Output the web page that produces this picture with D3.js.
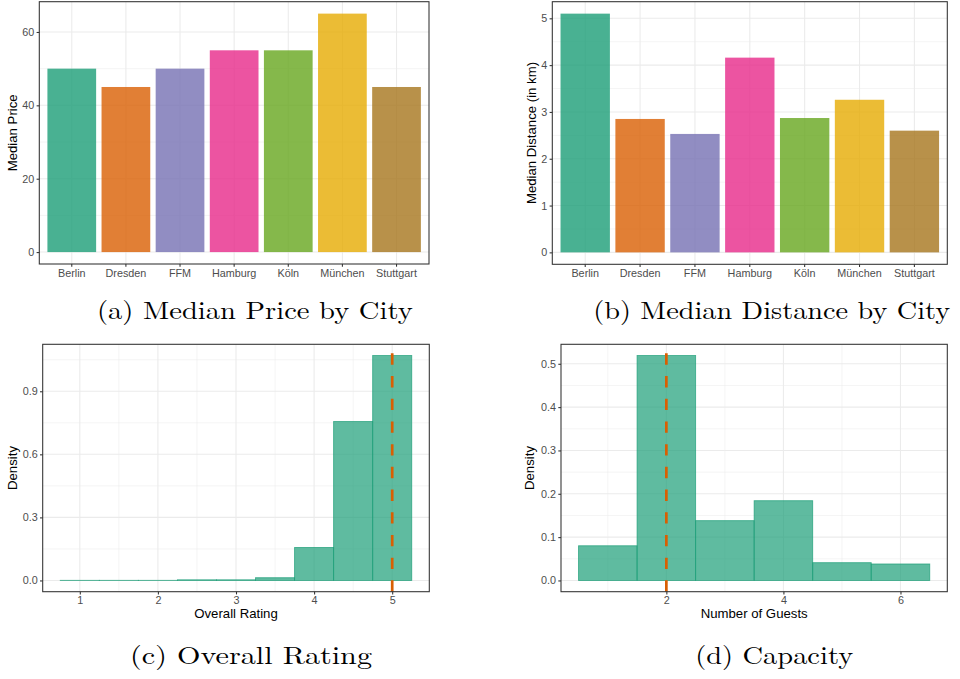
<!DOCTYPE html>
<html>
<head>
<meta charset="utf-8">
<script src="https://cdn.jsdelivr.net/npm/d3@7"></script>
<style>
  html, body { margin: 0; padding: 0; background: #fff; }
  svg { display: block; }
</style>
</head>
<body>
<svg id="chart" width="960" height="679"></svg>
<script>
// ---------------- DATA ----------------
const cities = ["Berlin", "Dresden", "FFM", "Hamburg", "Köln", "München", "Stuttgart"];
const medianPrice = [50, 45, 50, 55, 55, 65, 45];
const medianDistance = [5.10, 2.85, 2.53, 4.16, 2.87, 3.26, 2.60];
const cityColors = ["#1B9E77", "#D95F02", "#7570B3", "#E7298A", "#66A61E", "#E6AB02", "#A6761D"];

const ratingBinCenters = [1, 1.5, 2, 2.5, 3, 3.5, 4, 4.5, 5];
const ratingDensity = [0.0005, 0.0005, 0.0005, 0.003, 0.003, 0.013, 0.157, 0.756, 1.07];
const ratingBinWidth = 0.5;
const ratingMedian = 5;
const ratingTicks = [1, 2, 3, 4, 5];
const ratingDensityTicks = [0, 0.3, 0.6, 0.9];

const guestBinCenters = [1, 2, 3, 4, 5, 6];
const guestDensity = [0.080, 0.519, 0.138, 0.184, 0.041, 0.038];
const guestBinWidth = 1;
const guestMedian = 2;
const guestTicks = [2, 4, 6];
const guestDensityTicks = [0, 0.1, 0.2, 0.3, 0.4, 0.5];

const priceTicks = [0, 20, 40, 60];
const distanceTicks = [0, 1, 2, 3, 4, 5];

const captions = ["(a) Median Price by City", "(b) Median Distance by City", "(c) Overall Rating", "(d) Capacity"];

// ---------------- STYLE ----------------
const FONT = "'Liberation Sans', Arial, Helvetica, sans-serif";
const SERIF = "'Latin Modern Roman', 'CMU Serif', 'Liberation Serif', 'Times New Roman', serif";
const GRID = "#EBEBEB";
const DARK = "#333333";
const TICKTXT = "#4D4D4D";
const TICK_FS = 10.8;
const TITLE_FS = 13.2;

const svg = d3.select("#chart");

function panelFrame(g, p) {
  g.append("rect").attr("x", p.left).attr("y", p.top)
    .attr("width", p.right - p.left).attr("height", p.bottom - p.top)
    .attr("fill", "#fff");
}

function hGrid(g, p, y, major, minor) {
  g.selectAll(null).data(minor).join("line")
    .attr("x1", p.left).attr("x2", p.right)
    .attr("y1", d => y(d)).attr("y2", d => y(d))
    .attr("stroke", GRID).attr("stroke-width", 0.55);
  g.selectAll(null).data(major).join("line")
    .attr("x1", p.left).attr("x2", p.right)
    .attr("y1", d => y(d)).attr("y2", d => y(d))
    .attr("stroke", GRID).attr("stroke-width", 1.07);
}
function vGrid(g, p, xs, width) {
  g.selectAll(null).data(xs).join("line")
    .attr("y1", p.top).attr("y2", p.bottom)
    .attr("x1", d => d).attr("x2", d => d)
    .attr("stroke", GRID).attr("stroke-width", width);
}

function styleAxis(ax) {
  ax.select(".domain").remove();
  ax.selectAll(".tick line").attr("stroke", DARK).attr("stroke-width", 1.07);
  ax.selectAll(".tick text").attr("fill", TICKTXT).attr("font-size", TICK_FS)
    .attr("font-family", FONT);
}

function border(g, p) {
  g.append("rect").attr("x", p.left).attr("y", p.top)
    .attr("width", p.right - p.left).attr("height", p.bottom - p.top)
    .attr("fill", "none").attr("stroke", DARK).attr("stroke-width", 1.07);
}

function yTitle(g, x, p, text) {
  g.append("text")
    .attr("transform", `translate(${x},${(p.top + p.bottom) / 2}) rotate(-90)`)
    .attr("text-anchor", "middle")
    .attr("font-family", FONT).attr("font-size", TITLE_FS).attr("fill", "#000")
    .text(text);
}
function xTitle(g, y, p, text) {
  g.append("text")
    .attr("x", (p.left + p.right) / 2).attr("y", y)
    .attr("text-anchor", "middle")
    .attr("font-family", FONT).attr("font-size", TITLE_FS).attr("fill", "#000")
    .text(text);
}

// ---------- Bar panels (a), (b) ----------
function barPanel(p, values, ticks, fmt, titleX, title) {
  const g = svg.append("g");
  panelFrame(g, p);
  const x = d3.scaleBand().domain(cities).range([p.left, p.right])
    .paddingInner(0.1).paddingOuter(0.15);
  const vmax = d3.max(values);
  const y = d3.scaleLinear().domain([-0.05 * vmax, vmax * 1.05]).range([p.bottom, p.top]);
  const step = ticks[1] - ticks[0];
  const minor = ticks.map(t => t + step / 2).filter(t => y(t) >= p.top);
  hGrid(g, p, y, ticks, minor);
  vGrid(g, p, cities.map(c => x(c) + x.bandwidth() / 2), 1.07);

  g.selectAll(null).data(cities).join("rect")
    .attr("x", c => x(c))
    .attr("width", x.bandwidth())
    .attr("y", (c, i) => y(values[i]))
    .attr("height", (c, i) => y(0) - y(values[i]))
    .attr("fill", (c, i) => cityColors[i])
    .attr("fill-opacity", 0.8);

  border(g, p);
  const ax = g.append("g").attr("transform", `translate(0,${p.bottom})`)
    .call(d3.axisBottom(x).tickSize(2.7).tickPadding(2.3));
  styleAxis(ax);
  const ay = g.append("g").attr("transform", `translate(${p.left},0)`)
    .call(d3.axisLeft(y).tickValues(ticks).tickFormat(fmt).tickSize(2.7).tickPadding(2.3));
  styleAxis(ay);
  yTitle(g, titleX, p, title);
}

// ---------- Histogram panels (c), (d) ----------
function histPanel(p, centers, dens, bw, xTicks, yTicks, median, minorX, yFmt, titleX, ytitle, xtitle) {
  const g = svg.append("g");
  panelFrame(g, p);
  const lo = d3.min(centers) - bw / 2, hi = d3.max(centers) + bw / 2;
  const xr = hi - lo;
  const x = d3.scaleLinear().domain([lo - 0.05 * xr, hi + 0.05 * xr]).range([p.left, p.right]);
  const dmax = d3.max(dens);
  const y = d3.scaleLinear().domain([-0.05 * dmax, dmax * 1.05]).range([p.bottom, p.top]);
  const ystep = yTicks[1] - yTicks[0];
  const yMinor = yTicks.map(t => t + ystep / 2).filter(t => y(t) >= p.top);
  hGrid(g, p, y, yTicks, yMinor);
  vGrid(g, p, minorX.filter(v => x(v) > p.left && x(v) < p.right).map(v => x(v)), 0.55);
  vGrid(g, p, xTicks.map(v => x(v)), 1.07);

  g.selectAll(null).data(centers).join("rect")
    .attr("x", c => x(c - bw / 2))
    .attr("width", c => x(c + bw / 2) - x(c - bw / 2))
    .attr("y", (c, i) => y(dens[i]))
    .attr("height", (c, i) => y(0) - y(dens[i]))
    .attr("fill", "#1B9E77").attr("fill-opacity", 0.7)
    .attr("stroke", "#1B9E77").attr("stroke-opacity", 0.75).attr("stroke-width", 0.9);

  g.append("line")
    .attr("x1", x(median)).attr("x2", x(median))
    .attr("y1", p.bottom).attr("y2", p.top)
    .attr("stroke", "#D95F02").attr("stroke-width", 2.7)
    .attr("stroke-dasharray", "11.35 11.35");

  border(g, p);
  const ax = g.append("g").attr("transform", `translate(0,${p.bottom})`)
    .call(d3.axisBottom(x).tickValues(xTicks).tickFormat(d3.format("d")).tickSize(2.7).tickPadding(2.3));
  styleAxis(ax);
  const ay = g.append("g").attr("transform", `translate(${p.left},0)`)
    .call(d3.axisLeft(y).tickValues(yTicks).tickFormat(yFmt).tickSize(2.7).tickPadding(2.3));
  styleAxis(ay);
  yTitle(g, titleX, p, ytitle);
  xTitle(g, p.bottom + 26.5, p, xtitle);
}

barPanel({left: 39.3, right: 429, top: 1.7, bottom: 264}, medianPrice, priceTicks, d3.format("d"), 17.3, "Median Price");
barPanel({left: 552.3, right: 947.3, top: 1.7, bottom: 264.3}, medianDistance, distanceTicks, d3.format("d"), 535.5, "Median Distance (in km)");

histPanel({left: 42.7, right: 429.3, top: 344.3, bottom: 591.7}, ratingBinCenters, ratingDensity, ratingBinWidth,
  ratingTicks, ratingDensityTicks, ratingMedian, [1.5, 2.5, 3.5, 4.5], d3.format(".1f"), 16.8, "Density", "Overall Rating");
histPanel({left: 561, right: 947.3, top: 344.3, bottom: 591.7}, guestBinCenters, guestDensity, guestBinWidth,
  guestTicks, guestDensityTicks, guestMedian, [1, 3, 5], d3.format(".1f"), 533.5, "Density", "Number of Guests");

// ---------- Captions ----------
const capPos = [
  {cx: 254.9, y: 318.5, w: 316},
  {cx: 771.7, y: 318.5, w: 357},
  {cx: 251, y: 663.5, w: 242},
  {cx: 774.2, y: 663.5, w: 158}
];
svg.selectAll(null).data(captions).join("text")
  .attr("x", (d, i) => capPos[i].cx - capPos[i].w / 2)
  .attr("y", (d, i) => capPos[i].y)
  .attr("textLength", (d, i) => capPos[i].w)
  .attr("lengthAdjust", "spacingAndGlyphs")
  .attr("font-family", SERIF).attr("font-size", 25).attr("fill", "#000")
  .text(d => d);
</script>
</body>
</html>
